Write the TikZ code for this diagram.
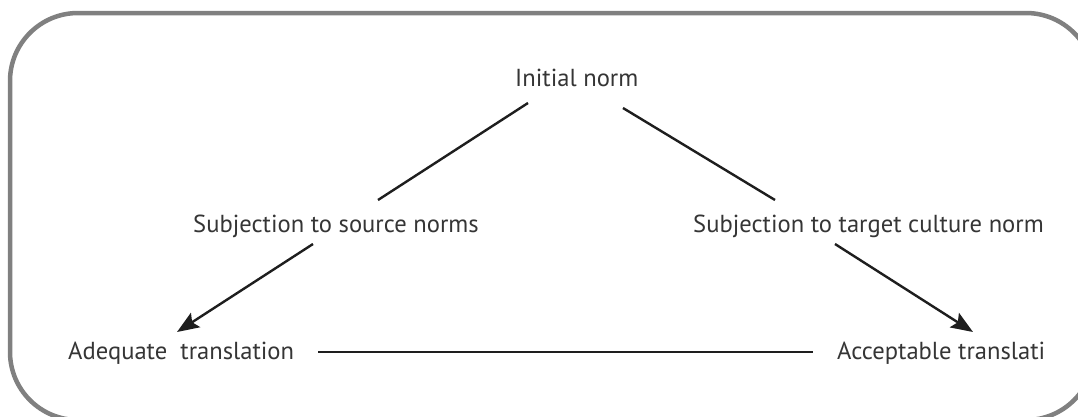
\documentclass[tikz,border=0pt]{standalone}
\usepackage{fontspec}
\setmainfont{PT Sans}
\usetikzlibrary{arrows.meta}
\definecolor{framegray}{HTML}{808080}
\definecolor{ink}{HTML}{1E1E1E}
\begin{document}
\begin{tikzpicture}[x=1pt,y=-1pt,
  lbl/.style={inner sep=0pt,anchor=base west,font=\fontsize{24.6}{28}\selectfont,text=ink!90},
  conn/.style={draw=ink,line width=2.4pt},
  arr/.style={conn,-{Stealth[length=22pt,width=17pt,inset=4pt]}}]
\useasboundingbox (0,0) rectangle (1078,416);
\fill[white] (0,0) rectangle (1078,416);
\begin{scope}
\clip (0,0) rectangle (1078,416);
\draw[framegray,line width=4.5pt,rounded corners=68pt] (10,13) rectangle (1094,420);
\end{scope}
\node[lbl] (init) at (515,86) {Initial norm};
\node[lbl] (src) at (193,232) {Subjection to source norms};
\node[lbl] (ade) at (68,359) {Adequate\ \ translation};
\begin{scope}
\clip (0,0) rectangle (1048,416);
\node[lbl] (tgt) at (693,232) {Subjection to target culture norm};
\node[lbl] (acc) at (837,359) {Acceptable translati};
\end{scope}
\coordinate (l1a) at (528,103);
\coordinate (l1b) at (378,200);
\coordinate (r1a) at (623,108);
\coordinate (r1b) at (775,200);
\coordinate (l2a) at (313,244);
\coordinate (l2b) at (177,332);
\coordinate (r2a) at (835,244);
\coordinate (r2b) at (973,332);
\coordinate (b1a) at (318,352);
\coordinate (b1b) at (813,352);
\draw[conn] (l1a) -- (l1b);
\draw[conn] (r1a) -- (r1b);
\draw[arr] (l2a) -- (l2b);
\draw[arr] (r2a) -- (r2b);
\draw[conn] (b1a) -- (b1b);
\end{tikzpicture}
\end{document}
